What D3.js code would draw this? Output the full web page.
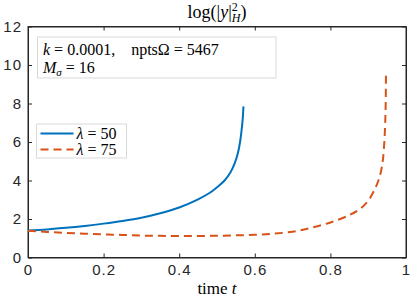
<!DOCTYPE html>
<html>
<head>
<meta charset="utf-8">
<script src="https://cdn.jsdelivr.net/npm/d3@7"></script>
<style>
  body { margin: 0; background: #fff; }
</style>
</head>
<body>
<div class="chart"></div>
<script>
// data
let tBlue = [0, 0.05, 0.1, 0.15, 0.2, 0.25, 0.3, 0.35, 0.4, 0.45, 0.48, 0.5, 0.52, 0.535, 0.547, 0.555, 0.561, 0.565, 0.568, 0.57];
let yBlue = [1.40, 1.46, 1.54, 1.64, 1.76, 1.90, 2.07, 2.30, 2.60, 3.02, 3.35, 3.65, 4.0, 4.4, 4.9, 5.4, 6.0, 6.6, 7.2, 7.85];
let tRed = [0, 0.05, 0.1, 0.15, 0.2, 0.25, 0.3, 0.35, 0.4, 0.45, 0.5, 0.55, 0.6, 0.65, 0.7, 0.75, 0.8, 0.85, 0.88, 0.9, 0.915, 0.928, 0.937, 0.942, 0.945, 0.9465, 0.947];
let yRed = [1.39, 1.33, 1.28, 1.24, 1.20, 1.17, 1.14, 1.125, 1.12, 1.12, 1.13, 1.15, 1.18, 1.24, 1.34, 1.55, 1.82, 2.2, 2.55, 2.95, 3.45, 4.05, 4.8, 5.8, 7.0, 8.3, 9.7];
let xTicks = [0, 0.2, 0.4, 0.6, 0.8, 1];
let yTicks = [0, 2, 4, 6, 8, 10, 12];

let serif = "'Liberation Serif', 'Times New Roman', serif";
let sans = "'Liberation Sans', Arial, sans-serif";

let margin = {top: 26.5, right: 4, bottom: 42.5, left: 28};
let W = 410, H = 300;
let width = W - margin.left - margin.right;
let height = H - margin.top - margin.bottom;

let svg = d3.select(".chart").append("svg")
    .attr("width", W).attr("height", H);
let g = svg.append("g")
    .attr("transform", "translate(" + margin.left + "," + margin.top + ")");

let x = d3.scaleLinear().domain([0, 1]).range([0, width]);
let y = d3.scaleLinear().domain([0, 12]).range([height, 0]);

// axes, ticks inward, box on
let fmt = d => d === 0 || d === 1 ? String(d) : d3.format(".1f")(d);
g.append("g").attr("transform", "translate(0," + height + ")")
    .call(d3.axisBottom(x).tickValues(xTicks).tickFormat(fmt).tickSizeInner(-4).tickSizeOuter(0).tickPadding(7));
g.append("g")
    .call(d3.axisLeft(y).tickValues(yTicks).tickSizeInner(-4).tickSizeOuter(0).tickPadding(6));
g.append("g")
    .call(d3.axisTop(x).tickValues(xTicks).tickFormat("").tickSizeInner(-4).tickSizeOuter(0));
g.append("g").attr("transform", "translate(" + width + ",0)")
    .call(d3.axisRight(y).tickValues(yTicks).tickFormat("").tickSizeInner(-4).tickSizeOuter(0));
g.selectAll(".domain").attr("stroke", "#262626");
g.selectAll(".tick line").attr("stroke", "#262626");
g.selectAll(".tick text")
    .style("font-family", sans).style("font-size", "15px")
    .style("letter-spacing", "1px").attr("fill", "#262626");
g.append("rect").attr("width", width).attr("height", height)
    .attr("fill", "none").attr("stroke", "#262626").attr("stroke-width", 1);

// lines
let line = d3.line().x(d => x(d[0])).y(d => y(d[1])).curve(d3.curveCatmullRom.alpha(0.5));
g.append("path").datum(d3.zip(tBlue, yBlue))
    .attr("d", line).attr("fill", "none").attr("stroke", "#0072BD").attr("stroke-width", 2);
g.append("path").datum(d3.zip(tRed, yRed))
    .attr("d", line).attr("fill", "none").attr("stroke", "#D95319").attr("stroke-width", 2)
    .attr("stroke-dasharray", "8,5");

function mtext(xx, yy, size, anchor) {
    return svg.append("text").attr("x", xx).attr("y", yy)
        .attr("text-anchor", anchor || "start")
        .style("font-family", serif).style("font-size", size + "px").attr("fill", "#000");
}

// title
let title = mtext(217, 18, 18, "middle");
title.append("tspan").text("log(|");
title.append("tspan").style("font-style", "italic").text("y");
title.append("tspan").text("|");
title.append("tspan").attr("dy", -7).style("font-size", "12px").text("2");
title.append("tspan").attr("dx", -6).attr("dy", 11).style("font-size", "12px").style("font-style", "italic").text("H");
title.append("tspan").attr("dy", -4).text(")");

// x label
let xl = mtext(217, 294, 17, "middle");
xl.append("tspan").text("time ");
xl.append("tspan").style("font-style", "italic").text("t");

// info box
svg.append("rect").attr("x", 37.5).attr("y", 37).attr("width", 238.5).attr("height", 41)
    .attr("fill", "#fff").attr("stroke", "#d9d9d9");
let t1 = mtext(43, 55, 16);
t1.append("tspan").style("font-style", "italic").text("k");
t1.append("tspan").text(" = 0.0001,");
t1.append("tspan").attr("dx", 16).text("nptsΩ = 5467");
let t2 = mtext(43, 73, 16);
t2.append("tspan").style("font-style", "italic").text("M");
t2.append("tspan").attr("dy", 3).style("font-size", "11px").style("font-style", "italic").text("σ");
t2.append("tspan").attr("dy", -3).text(" = 16");

// legend
svg.append("rect").attr("x", 36.5).attr("y", 124).attr("width", 90).attr("height", 34)
    .attr("fill", "#fff").attr("stroke", "#d9d9d9");
let legend = [
    {label: "50", color: "#0072BD", dash: null, yy: 133.5},
    {label: "75", color: "#D95319", dash: "8,5", yy: 149.5}
];
legend.forEach(d => {
    svg.append("line").attr("x1", 40.5).attr("x2", 73.5).attr("y1", d.yy).attr("y2", d.yy)
        .attr("stroke", d.color).attr("stroke-width", 2).attr("stroke-dasharray", d.dash);
    let lt = mtext(76.5, d.yy + 5, 16);
    lt.append("tspan").style("font-style", "italic").text("λ");
    lt.append("tspan").text(" = " + d.label);
});
</script>
</body>
</html>
